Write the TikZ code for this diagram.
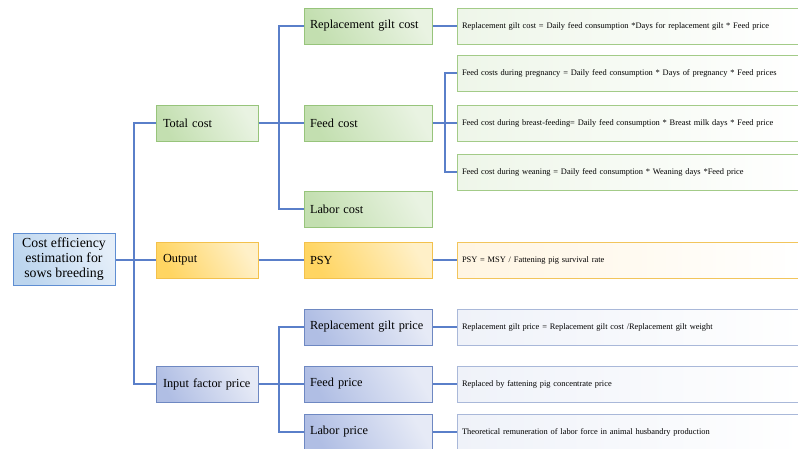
\documentclass[tikz,border=0pt]{standalone}
\usepackage{fontspec}
\setmainfont{Liberation Serif}
\usetikzlibrary{calc}
\definecolor{linec}{HTML}{5A7FC9}
\definecolor{gB}{HTML}{97C47B}
\definecolor{gA}{HTML}{C3DFB0}
\definecolor{gC}{HTML}{E9F3E2}
\definecolor{yB}{HTML}{F3C14C}
\definecolor{yA}{HTML}{FFD562}
\definecolor{yC}{HTML}{FFF0C8}
\definecolor{bB}{HTML}{6E88C2}
\definecolor{bA}{HTML}{B0BEE4}
\definecolor{bC}{HTML}{E6EAF6}
\definecolor{rB}{HTML}{5F8ED2}
\definecolor{rA}{HTML}{BCD5EE}
\definecolor{rC}{HTML}{E4EEF9}
\definecolor{g3B}{HTML}{A3CB88}
\definecolor{g3A}{HTML}{EEF6E9}
\definecolor{y3B}{HTML}{F2C55C}
\definecolor{y3A}{HTML}{FFF5E2}
\definecolor{b3B}{HTML}{A9B8D9}
\definecolor{b3A}{HTML}{EFF2F9}
\tikzset{
  conn/.style={draw=linec, line width=1.2pt},
  boxbase/.style={rectangle, line width=1pt, inner ysep=0pt, align=left,
    font=\fontsize{12.3}{14}\selectfont, text=black},
  lvlone/.style={boxbase, minimum height=36pt, inner xsep=7pt, text width=88pt},
  lvltwo/.style={boxbase, minimum height=36pt, inner xsep=6pt, text width=116pt},
  lvlthree/.style={boxbase, minimum height=36pt, inner xsep=5pt, text width=335pt,
    font=\fontsize{8.4}{10}\selectfont},
  greenbox/.style={draw=gB, left color=gA, right color=gC, shading angle=120},
  yellowbox/.style={draw=yB, left color=yA, right color=yC, shading angle=120},
  bluebox/.style={draw=bB, left color=bA, right color=bC, shading angle=120},
  rootbox/.style={draw=rB, left color=rA, right color=rC, shading angle=120},
  greenthree/.style={draw=g3B, left color=g3A, right color=white},
  yellowthree/.style={draw=y3B, left color=y3A, right color=white},
  bluethree/.style={draw=b3B, left color=b3A, right color=white},
}
\begin{document}
\begin{tikzpicture}[x=1pt,y=-1pt]
\useasboundingbox (0,0) rectangle (798,448);
\clip (0,0) rectangle (798,448);
% root
\node[boxbase, rootbox, minimum width=102pt, minimum height=52pt, align=center,
  font=\fontsize{13.8}{15.3}\selectfont] (root) at (64,259)
  {Cost efficiency\\estimation for\\sows breeding};
% level 1
\node[lvlone, greenbox] (total) at (207,123) {Total cost};
\node[lvlone, yellowbox] (output) at (207,260) {Output};
\node[lvlone, bluebox] (input) at (207,384) {Input factor price};
% level 2
\node[lvltwo, greenbox] (rgc) at (368,26) {Replacement gilt cost};
\node[lvltwo, greenbox] (fc) at (368,123) {Feed cost};
\node[lvltwo, greenbox] (lc) at (368,209) {Labor cost};
\node[lvltwo, yellowbox] (psy) at (368,260) {PSY};
\node[lvltwo, bluebox] (rgp) at (368,327) {Replacement gilt price};
\node[lvltwo, bluebox] (fp) at (368,384) {Feed price};
\node[lvltwo, bluebox] (lp) at (368,432) {Labor price};
% level 3
\node[lvlthree, greenthree] (f1) at (629.5,26) {Replacement gilt cost = Daily feed consumption *Days for replacement gilt * Feed price};
\node[lvlthree, greenthree] (f2) at (629.5,73) {Feed costs during pregnancy = Daily feed consumption * Days of pregnancy * Feed prices};
\node[lvlthree, greenthree] (f3) at (629.5,123) {Feed cost during breast-feeding= Daily feed consumption * Breast milk days * Feed price};
\node[lvlthree, greenthree] (f4) at (629.5,172) {Feed cost during weaning = Daily feed consumption * Weaning days *Feed price};
\node[lvlthree, yellowthree] (f5) at (629.5,260) {PSY = MSY / Fattening pig survival rate};
\node[lvlthree, bluethree] (f6) at (629.5,327) {Replacement gilt price = Replacement gilt cost /Replacement gilt weight};
\node[lvlthree, bluethree] (f7) at (629.5,384) {Replaced by fattening pig concentrate price};
\node[lvlthree, bluethree] (f8) at (629.5,432) {Theoretical remuneration of labor force in animal husbandry production};
% junctions
\coordinate (j0) at (134,260);
\coordinate (j1) at (279,123);
\coordinate (j2) at (279,384);
\coordinate (j3) at (445,123);
% connectors
\draw[conn] (root.east |- output.west) -- (output.west);
\draw[conn] (total.west) -| (j0) |- (input.west);
\draw[conn] (rgc.west) -| (j1) |- (lc.west);
\draw[conn] (total.east) -- (fc.west);
\draw[conn] (output.east) -- (psy.west);
\draw[conn] (rgp.west) -| (j2) |- (lp.west);
\draw[conn] (input.east) -- (fp.west);
\draw[conn] (rgc.east) -- (f1.west);
\draw[conn] (f2.west) -| (j3) |- (f4.west);
\draw[conn] (fc.east) -- (f3.west);
\draw[conn] (psy.east) -- (f5.west);
\draw[conn] (rgp.east) -- (f6.west);
\draw[conn] (fp.east) -- (f7.west);
\draw[conn] (lp.east) -- (f8.west);
\end{tikzpicture}
\end{document}
